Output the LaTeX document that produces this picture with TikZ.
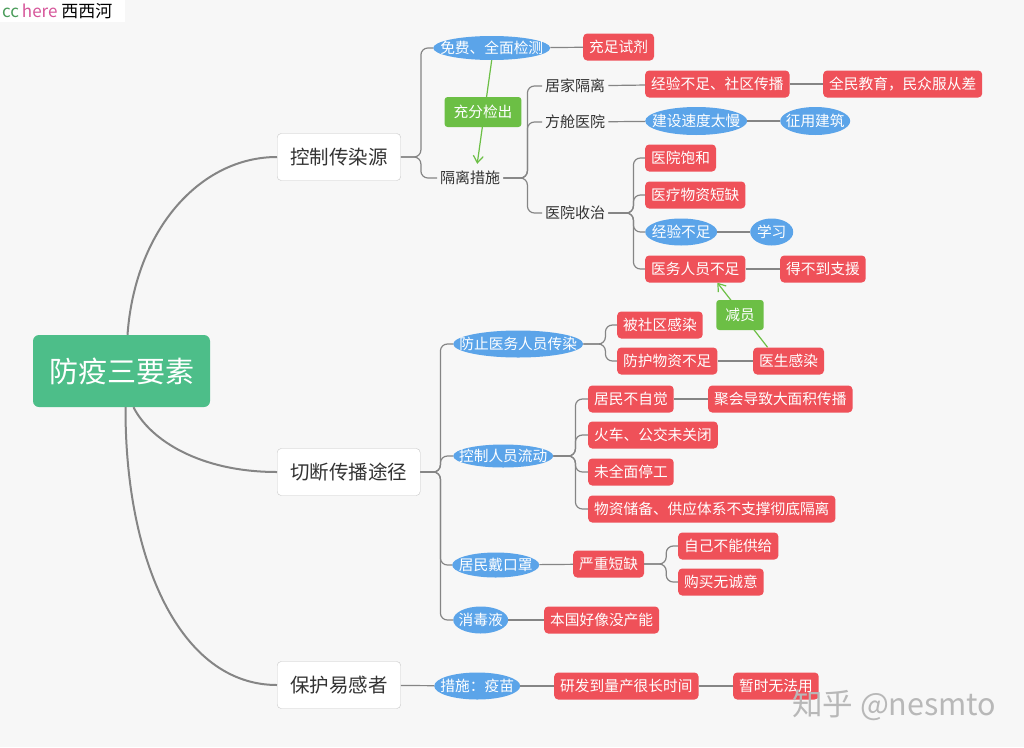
\documentclass[tikz,border=0pt]{standalone}
\usepackage{fontspec}
\setmainfont{Noto Sans CJK SC}
\usetikzlibrary{shapes.geometric,arrows.meta,calc}
\definecolor{bgc}{HTML}{F7F7F7}
\definecolor{redc}{HTML}{EF5159}
\definecolor{bluec}{HTML}{5BA4E9}
\definecolor{grnc}{HTML}{6CBF45}
\definecolor{rootc}{HTML}{4DBE89}
\definecolor{linec}{HTML}{858585}
\definecolor{txtc}{HTML}{333333}
\definecolor{ccg}{HTML}{4A9C5A}
\definecolor{ccp}{HTML}{D6559A}
\pgfdeclarelayer{bg}\pgfdeclarelayer{mid}\pgfsetlayers{bg,mid,main}
\newcommand\mfs{\fontsize{14.7}{16}\selectfont}
\begin{document}
\begin{tikzpicture}[x=1pt,y=-1pt,
  redbox/.style={fill=redc, text=white, rounded corners=4pt, font=\mfs, inner xsep=6pt, inner ysep=0pt, minimum height=27pt, anchor=west},
  bell/.style={ellipse, fill=bluec, text=white, font=\mfs, inner xsep=-40pt, inner ysep=-12pt, anchor=west},
  grnbox/.style={fill=grnc, text=white, rounded corners=3pt, font=\mfs, inner xsep=9pt, inner ysep=0pt, minimum height=30pt},
  plain/.style={text=txtc, font=\fontsize{15}{17}\selectfont, inner xsep=3pt, inner ysep=2pt, anchor=west},
  lone/.style={draw=black!22, fill=white, rounded corners=4pt, font=\fontsize{19.5}{22}\selectfont, text=txtc, inner xsep=13pt, inner ysep=0pt, minimum height=47pt, anchor=west},
  rootbox/.style={fill=rootc, text=white, rounded corners=6pt, font=\fontsize{29}{32}\selectfont, minimum width=177pt, minimum height=72pt},
  link/.style={draw=linec, line width=1.2pt, rounded corners=7pt},
  trunk/.style={draw=linec, line width=2pt},
  garrow/.style={draw=grnc, line width=1.2pt, -{Straight Barb[length=7pt,width=10pt]}}
]
\begin{pgfonlayer}{bg}
\fill[bgc] (0,0) rectangle (1024,747);
\fill[white] (0,0) rectangle (125,22);
\end{pgfonlayer}
\useasboundingbox (0,0) rectangle (1024,747);

% header
\node[anchor=west, font=\fontsize{17}{19}\selectfont, inner sep=0pt] (hdr) at (2,11) {\textcolor{ccg}{cc}\,\textcolor{ccp}{here} \textcolor{black}{西西河}};

% root and level 1
\node[rootbox] (root) at (121.5,371) {防疫三要素};
\node[lone] (ctrl) at (277,157) {控制传染源};
\node[lone] (cut) at (277,472) {切断传播途径};
\node[lone] (prot) at (277,685) {保护易感者};

\draw[trunk] ([xshift=6pt]root.north) .. controls (135,230) and (200,157) .. (ctrl.west);
\draw[trunk] ([xshift=12pt]root.south) .. controls (150,440) and (200,472) .. (cut.west);
\draw[trunk] ([xshift=4pt]root.south) .. controls (125,560) and (180,685) .. (prot.west);

% --- 控制传染源
\node[bell, minimum width=117pt, minimum height=24pt] (mianfei) at (433,48) {免费、全面检测};
\node[redbox] (chongzu) at (583,47) {充足试剂};
\node[plain] (geli) at (437,178) {隔离措施};
\node[plain] (jujia) at (542,86) {居家隔离};
\node[plain] (fangcang) at (542,122) {方舱医院};
\node[plain] (yiyuan) at (542,213) {医院收治};
\node[redbox] (jingyan1) at (645,84) {经验不足、社区传播};
\node[redbox] (quanmin) at (823,84) {全民教育，民众服从差};
\node[bell, minimum width=102pt, minimum height=28pt] (jianshe) at (645,121) {建设速度太慢};
\node[bell, minimum width=70pt, minimum height=28pt] (zhengyong) at (780,121) {征用建筑};
\node[redbox] (baohe) at (645,158) {医院饱和};
\node[redbox] (wuzi) at (645,195) {医疗物资短缺};
\node[bell, minimum width=72pt, minimum height=27pt] (jingyan2) at (645,232) {经验不足};
\node[bell, minimum width=43pt, minimum height=27pt] (xuexi) at (750,232) {学习};
\node[redbox] (renyuan) at (645,269) {医务人员不足};
\node[redbox] (zhiyuan) at (780,269) {得不到支援};

\draw[link] (ctrl.east) -- ++(20,0) |- (mianfei.west);
\draw[link] (ctrl.east) -- ++(20,0) |- (geli.west);
\draw[link] (mianfei) -- (chongzu);
\draw[link] (geli.east) -- ++(24,0) |- (jujia.west);
\draw[link] (geli.east) -- ++(24,0) |- (fangcang.west);
\draw[link] (geli.east) -- ++(24,0) |- (yiyuan.west);
\draw[link] (jujia) -- (jingyan1);
\draw[link] (jingyan1) -- (quanmin);
\draw[link] (fangcang) -- (jianshe);
\draw[link] (jianshe) -- (zhengyong);
\draw[link] (yiyuan.east) -- ++(25,0) |- (baohe.west);
\draw[link] (yiyuan.east) -- ++(25,0) |- (wuzi.west);
\draw[link] (yiyuan.east) -- ++(25,0) |- (jingyan2.west);
\draw[link] (yiyuan.east) -- ++(25,0) |- (renyuan.west);
\draw[link] (jingyan2) -- (xuexi);
\draw[link] (renyuan) -- (zhiyuan);

% --- 切断传播途径
\node[bell, minimum width=130pt, minimum height=27pt] (fangzhi) at (453,344) {防止医务人员传染};
\node[bell, minimum width=100pt, minimum height=23pt] (kongzhi) at (453,456) {控制人员流动};
\node[bell, minimum width=87pt, minimum height=25pt] (kouzhao) at (452,565) {居民戴口罩};
\node[bell, minimum width=55pt, minimum height=27pt] (xiaodu) at (453,620) {消毒液};
\node[redbox] (beishequ) at (617,325) {被社区感染};
\node[redbox] (fanghu) at (617,361) {防护物资不足};
\node[redbox] (yisheng) at (753,361) {医生感染};
\node[redbox] (jumin) at (588,399) {居民不自觉};
\node[redbox] (juhui) at (708,399) {聚会导致大面积传播};
\node[redbox] (huoche) at (588,435) {火车、公交未关闭};
\node[redbox] (weiquan) at (588,472) {未全面停工};
\node[redbox] (chubei) at (588,509) {物资储备、供应体系不支撑彻底隔离};
\node[redbox] (yanzhong) at (573,564) {严重短缺};
\node[redbox] (ziji) at (678,546) {自己不能供给};
\node[redbox] (goumai) at (678,582) {购买无诚意};
\node[redbox] (benguo) at (544,620) {本国好像没产能};
\node[grnbox] (jianyuan) at (740,315) {减员};

\draw[link] (cut.east) -- ++(20,0) |- (fangzhi.west);
\draw[link] (cut.east) -- ++(20,0) |- (kongzhi.west);
\draw[link] (cut.east) -- ++(20,0) |- (kouzhao.west);
\draw[link] (cut.east) -- ++(20,0) |- (xiaodu.west);
\draw[link] (fangzhi.east) -- ++(22,0) |- (beishequ.west);
\draw[link] (fangzhi.east) -- ++(22,0) |- (fanghu.west);
\draw[link] (fanghu) -- (yisheng);
\draw[link] (kongzhi.east) -- ++(22,0) |- (jumin.west);
\draw[link] (kongzhi.east) -- ++(22,0) |- (huoche.west);
\draw[link] (kongzhi.east) -- ++(22,0) |- (weiquan.west);
\draw[link] (kongzhi.east) -- ++(22,0) |- (chubei.west);
\draw[link] (jumin) -- (juhui);
\draw[link] (kouzhao) -- (yanzhong);
\draw[link] (yanzhong.east) -- ++(22,0) |- (ziji.west);
\draw[link] (yanzhong.east) -- ++(22,0) |- (goumai.west);
\draw[link] (xiaodu) -- (benguo);

% --- 保护易感者
\node[bell, minimum width=86pt, minimum height=27pt] (cuoshi) at (434,686) {措施：疫苗};
\node[redbox] (yanfa) at (554,686) {研发到量产很长时间};
\node[redbox] (zanshi) at (733,686) {暂时无法用};
\draw[link] (prot) -- (cuoshi);
\draw[link] (cuoshi) -- (yanfa);
\draw[link] (yanfa) -- (zanshi);

% green helper box and arrows
\node[grnbox] (chongfen) at (483,112) {充分检出};
\begin{pgfonlayer}{mid}
\draw[garrow] (mianfei.south) -- ([shift={(7,-5)}]geli.north);
\draw[garrow] ([xshift=-21pt]yisheng.north) -- ([xshift=22pt]renyuan.south);
\end{pgfonlayer}

% watermark
\node[anchor=west, font=\fontsize{30.5}{33}\selectfont, text=black!28, inner sep=0pt] (wm) at (792,705) {知乎 @nesmto};
\end{tikzpicture}
\end{document}
